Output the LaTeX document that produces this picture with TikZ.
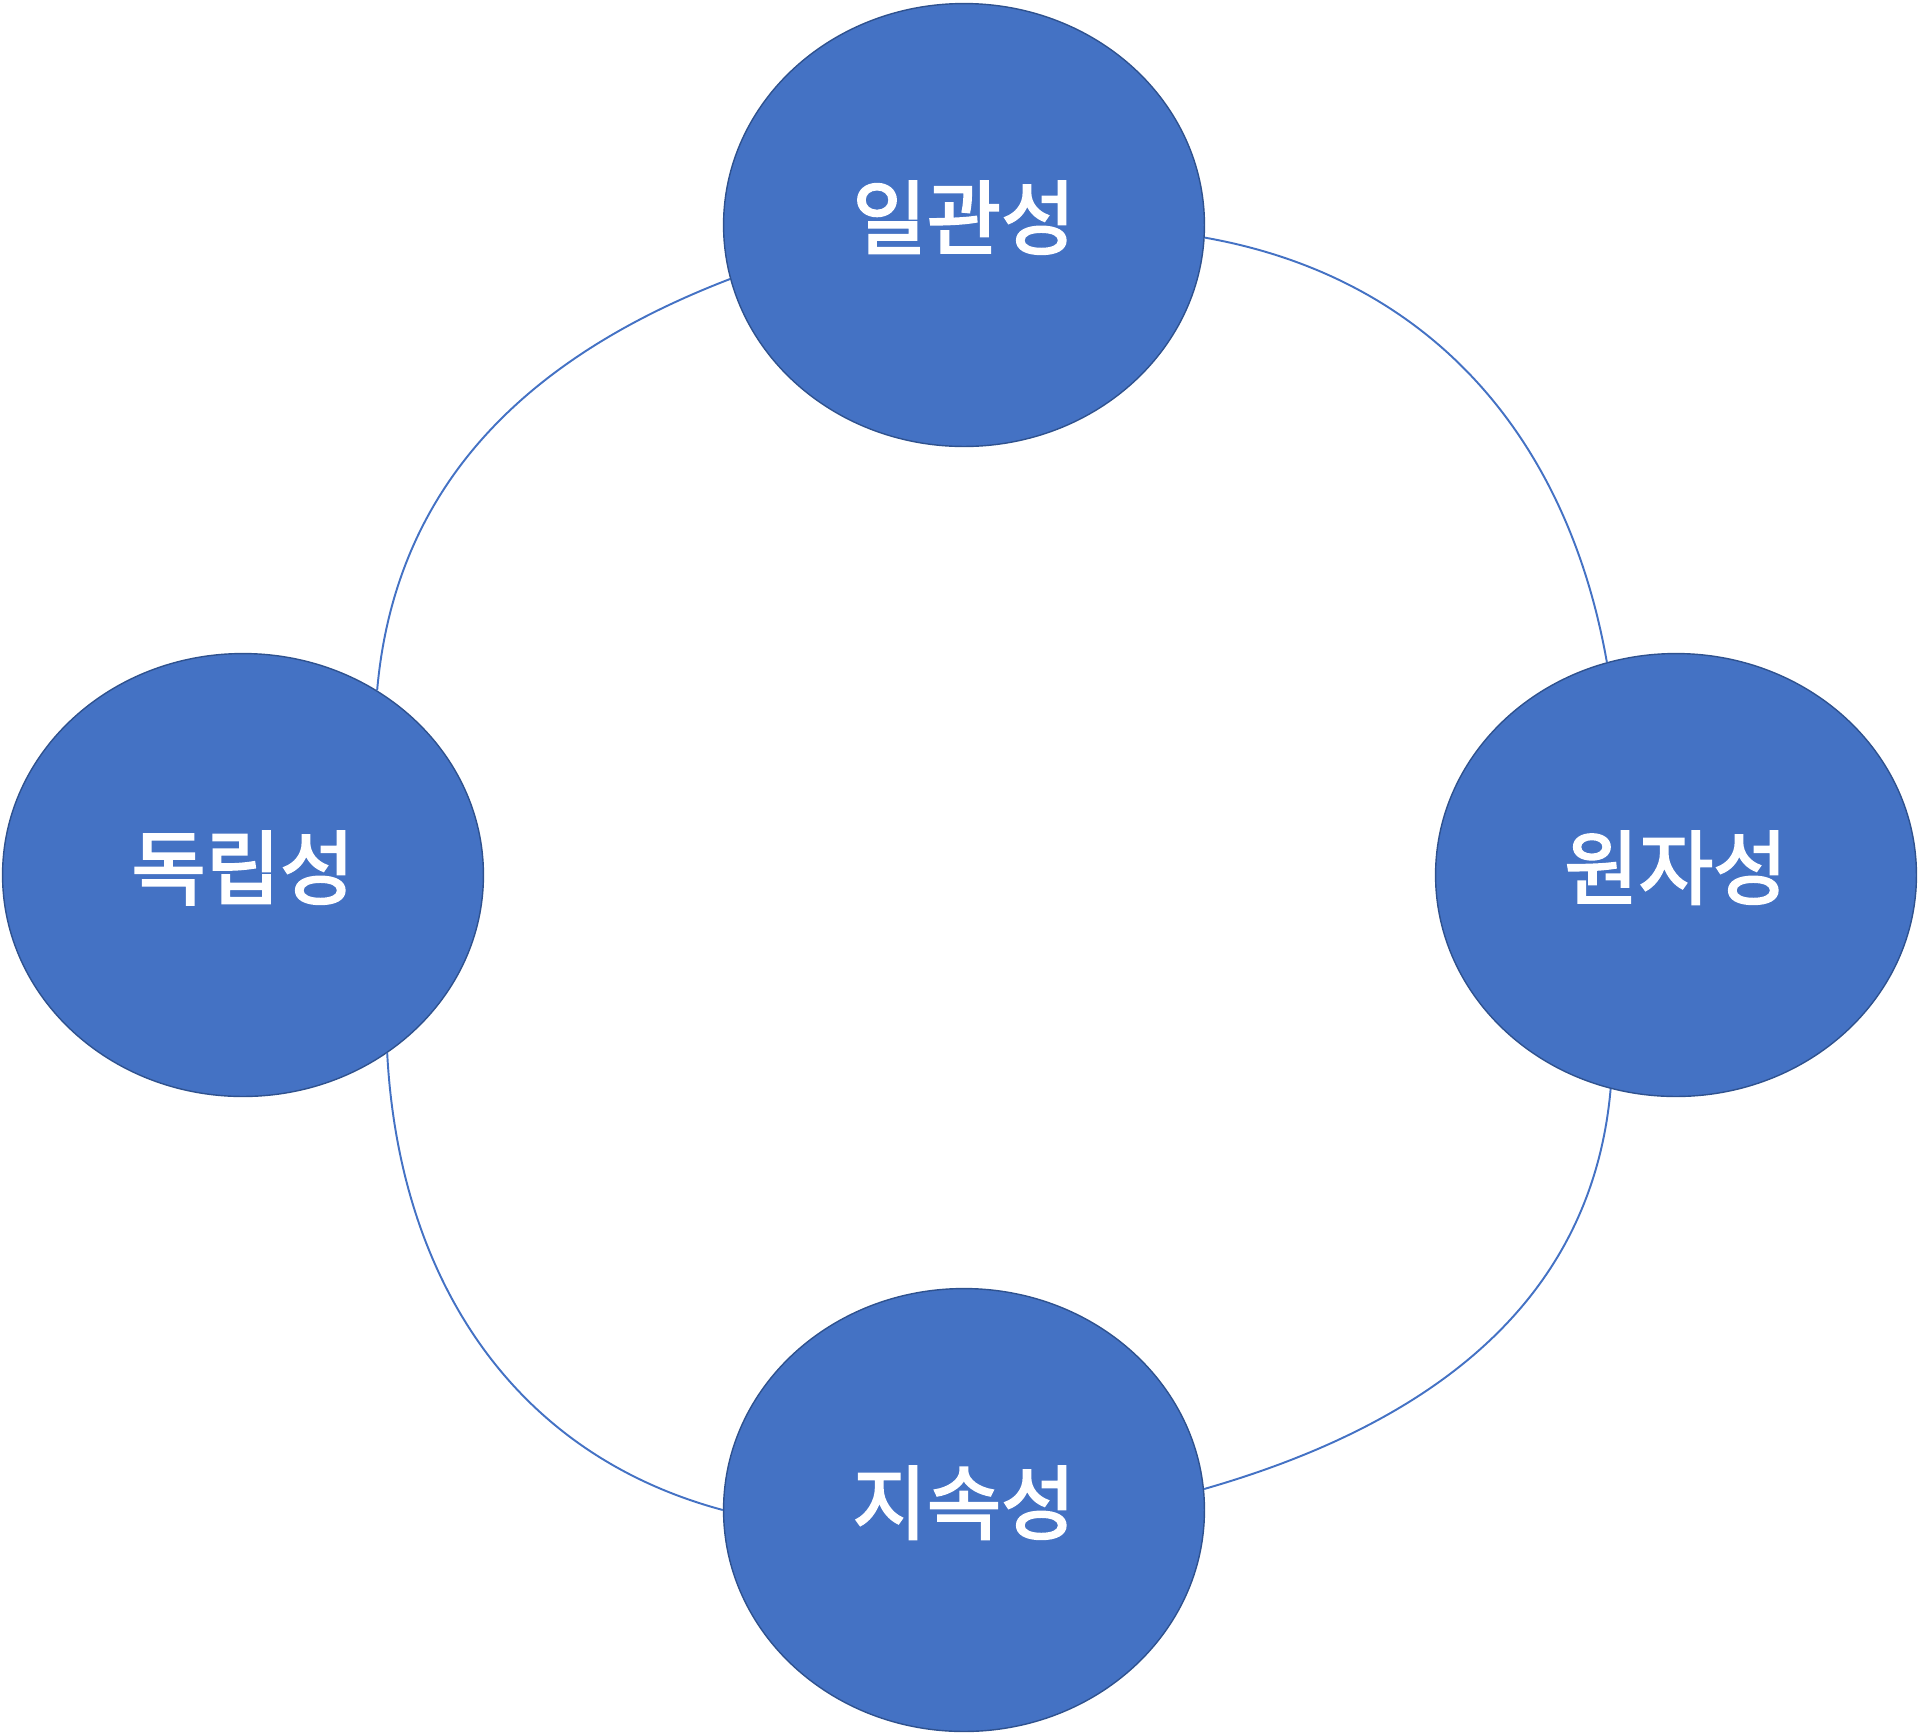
\documentclass[tikz,border=0pt]{standalone}
\usepackage{fontspec}
\newfontfamily\krfont{Noto Sans CJK KR}[FakeBold=2.6]
\usepackage{tikz}
\usetikzlibrary{shapes.geometric}
\definecolor{accblue}{HTML}{4472C4}
\definecolor{accedge}{HTML}{2F528F}
\tikzset{
  prop/.style={ellipse, fill=accblue, draw=accedge, line width=0.8pt,
    minimum width=9.62cm, minimum height=8.86cm, inner sep=0pt,
    text height=1.3cm, text depth=0.38cm,
    text=white, font=\krfont\fontsize{46}{52}\selectfont},
  link/.style={draw=accblue, line width=1.1pt}
}
\begin{document}
\begin{tikzpicture}[x=0.02cm,y=-0.02cm]
	\useasboundingbox (0,0) rectangle (1920,1735);
	         \node[prop] (C) at (964,225) {일관성};
	         \node[prop] (I) at (243,875) {독립성};
	         \node[prop] (A) at (1676,875) {원자성};
	         \node[prop] (D) at (964,1510) {지속성};
	         \draw[link] (C.193) to [out=201,in=85] (I.54);
	         \draw[link] (C.357) to [out=-10,in=100] (A.108);
	         \draw[link] (A.253) to [out=265,in=16] (D.5);
	         \draw[link] (I.309) to [out=273,in=165] (D.180);
	     \end{tikzpicture}
\end{document}
